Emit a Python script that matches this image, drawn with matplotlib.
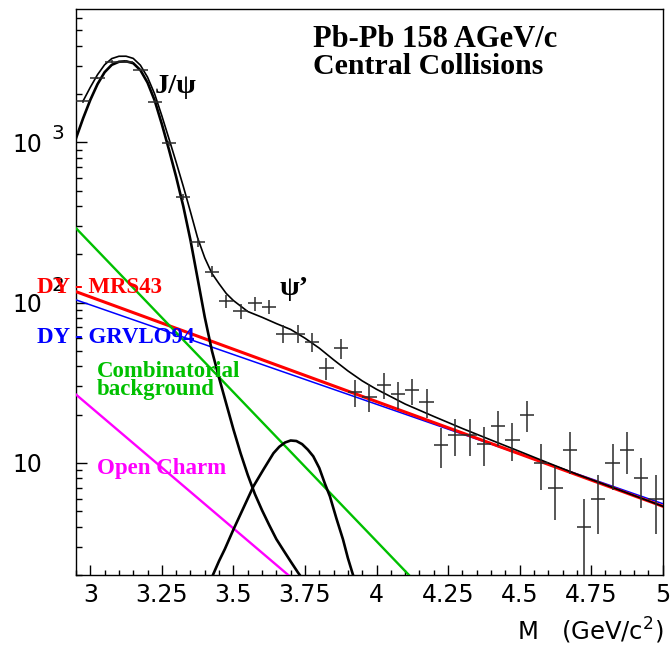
import matplotlib
matplotlib.use("Agg")
import matplotlib.pyplot as plt
import matplotlib.transforms as mtransforms
from matplotlib.ticker import MultipleLocator, LogLocator, NullFormatter, FixedLocator

# ---------------- data ----------------
mass_bins = [2.975, 3.025, 3.075, 3.125, 3.175, 3.225, 3.275, 3.325, 3.375, 3.425,
             3.475, 3.525, 3.575, 3.625, 3.675, 3.725, 3.775, 3.825, 3.875, 3.925,
             3.975, 4.025, 4.075, 4.125, 4.175, 4.225, 4.275, 4.325, 4.375, 4.425,
             4.475, 4.525, 4.575, 4.625, 4.675, 4.725, 4.775, 4.825, 4.875, 4.925, 4.975]
counts = [1800, 2520, 3180, 3180, 2820, 1790, 985, 458, 238, 156,
          102, 88, 99, 94, 64, 64, 57, 39, 52, 27.5,
          25.8, 30.7, 26.9, 28.3, 24.0, 12.9, 15.0, 15.0, 13.2, 16.9,
          14.0, 20.0, 10.0, 7.0, 12.0, 4.0, 6.0, 10.0, 12.0, 8.0, 6.0]
count_err = [42, 50, 56, 56, 53, 42, 31, 21, 15, 12.5,
             10, 9.4, 10, 9.7, 8, 8, 7.5, 6.2, 7.2, 5.2,
             5.1, 5.5, 5.2, 5.3, 4.9, 3.6, 3.9, 3.9, 3.6, 4.1,
             3.7, 4.5, 3.2, 2.6, 3.5, 2.0, 2.4, 3.2, 3.5, 2.8, 2.4]
bin_half_width = 0.025

fit_x = [2.975, 3.0, 3.025, 3.05, 3.075, 3.1, 3.125, 3.15, 3.175, 3.2, 3.225, 3.25,
         3.275, 3.3, 3.325, 3.35, 3.375, 3.4, 3.425, 3.45, 3.475, 3.5, 3.55, 3.6,
         3.65, 3.7, 3.75, 3.8, 3.85, 3.9, 3.95, 4.0, 4.1, 4.2, 4.3, 4.4, 4.5, 4.6,
         4.7, 4.8, 4.9, 5.0]
fit_y = [1812, 2203, 2637, 3044, 3326, 3439, 3441, 3335, 3025, 2546, 1997, 1461,
         1050, 750, 530, 368, 253, 190, 152, 131, 114, 103, 88, 81,
         74, 68, 60, 52, 44, 37.5, 32.5, 28.8, 23.3, 19.5, 16.4, 13.9, 11.8, 10.0,
         8.5, 7.3, 6.26, 5.37]

jpsi_x = [2.95, 2.975, 3.0, 3.025, 3.05, 3.075, 3.1, 3.125, 3.15, 3.175, 3.2, 3.225,
          3.25, 3.275, 3.3, 3.325, 3.35, 3.375, 3.4, 3.425, 3.45, 3.475, 3.5, 3.525,
          3.55, 3.575, 3.6, 3.625, 3.65, 3.675, 3.7, 3.725, 3.75]
jpsi_y = [1059, 1413, 1837, 2301, 2735, 3041, 3177, 3199, 3112, 2818, 2355, 1820,
          1297, 897, 608, 398, 245, 141, 81, 50, 33.9, 23.4, 16.2, 11.5,
          8.43, 6.4, 5.07, 4.1, 3.35, 2.85, 2.43, 2.08, 1.8]

psip_x = [3.42, 3.45, 3.47, 3.5, 3.535, 3.57, 3.605, 3.64, 3.66, 3.68, 3.70, 3.72,
          3.74, 3.76, 3.779, 3.80, 3.82, 3.837, 3.86, 3.883, 3.90, 3.918, 3.93]
psip_y = [1.85, 2.45, 2.9, 3.84, 5.24, 7.15, 9.1, 11.5, 12.6, 13.4, 13.8, 13.7,
          13.1, 12.1, 11.0, 9.3, 7.4, 6.2, 4.5, 3.33, 2.55, 2.0, 1.75]

dy_mrs43_x = [2.95, 5.0]
dy_mrs43_y = [117, 5.37]
dy_grv_x = [2.95, 5.0]
dy_grv_y = [104, 5.57]
comb_x = [2.95, 4.2]
comb_y = [291, 1.38]
charm_x = [2.95, 3.75]
charm_y = [26.7, 1.63]

xticks = [3.0, 3.25, 3.5, 3.75, 4.0, 4.25, 4.5, 4.75, 5.0]
xticklabels = ["3", "3.25", "3.5", "3.75", "4", "4.25", "4.5", "4.75", "5"]
yticks = [10, 100, 1000]
ytick_base = ["10", "10", "10"]
ytick_exp = ["", "2", "3"]

# ---------------- figure ----------------
W, H = 670, 646
fig = plt.figure(figsize=(W / 100, H / 100), dpi=100)
ax = fig.add_axes([76 / W, 1 - 575 / H, (662.7 - 76) / W, (575 - 9.3) / H])

RED, BLUE, GREEN, MAG = "#ff0000", "#0000ff", "#00c000", "#ff00ff"

ax.plot(dy_grv_x, dy_grv_y, color=BLUE, lw=1.1, zorder=3)
ax.plot(dy_mrs43_x, dy_mrs43_y, color=RED, lw=2.2, zorder=3)
ax.plot(comb_x, comb_y, color=GREEN, lw=1.7, zorder=3)
ax.plot(charm_x, charm_y, color=MAG, lw=1.7, zorder=3)
ax.plot(jpsi_x, jpsi_y, color="black", lw=1.9, zorder=4)
ax.plot(psip_x, psip_y, color="black", lw=1.9, zorder=4)
ax.plot(fit_x, fit_y, color="black", lw=1.2, zorder=5)

ax.errorbar(mass_bins, counts, yerr=count_err, xerr=bin_half_width, fmt="none",
            ecolor="#2a2a2a", elinewidth=1.1, capsize=0, zorder=6)

ax.set_yscale("log")
ax.set_xlim(2.95, 5.0)
ax.set_ylim(2.0, 6750)

sans = "DejaVu Sans"
serif = "Liberation Serif"

ax.xaxis.set_major_locator(FixedLocator(xticks))
ax.set_xticklabels(xticklabels, fontsize=17, fontfamily=sans)
ax.xaxis.set_minor_locator(MultipleLocator(0.05))
ax.yaxis.set_major_locator(FixedLocator(yticks))
ax.set_yticklabels(ytick_base, fontsize=17, fontfamily=sans)
ax.yaxis.set_minor_locator(LogLocator(base=10, subs=range(2, 10)))
ax.yaxis.set_minor_formatter(NullFormatter())
ax.tick_params(axis="x", which="major", direction="in", length=7.5, width=1.0, pad=6,
               top=False)
ax.tick_params(axis="x", which="minor", direction="in", length=3.8, width=1.0, top=False)
ax.tick_params(axis="y", which="major", direction="in", length=8, width=1.0, pad=24,
               right=False)
ax.tick_params(axis="y", which="minor", direction="in", length=4.2, width=1.0, right=False)
for s in ax.spines.values():
    s.set_linewidth(1.0)

# exponents of y tick labels
btr = mtransforms.blended_transform_factory(ax.transAxes, ax.transData)
exp_raise = {"2": 12.0, "3": 6.0}
for yv, ex in zip(yticks, ytick_exp):
    if ex:
        ax.annotate(ex, xy=(0, yv), xycoords=btr, xytext=(-13, exp_raise[ex]),
                    textcoords="offset points", ha="center", va="center",
                    fontsize=14.5, fontfamily=sans, annotation_clip=False)

plt.rcParams["mathtext.fontset"] = "dejavusans"


def ftext(px, py, s, **kw):
    fig.text(px / W, 1 - py / H, s, **kw)


# x axis label
ftext(663, 640, r"M   (GeV/c$^{2}$)", ha="right", va="baseline", fontsize=17.5,
      fontfamily=sans)

# annotations
ftext(313, 47, "Pb-Pb 158 AGeV/c", ha="left", va="baseline", fontsize=22,
      fontweight="bold", fontfamily=serif)
ftext(313, 74, "Central Collisions", ha="left", va="baseline", fontsize=21.5,
      fontweight="bold", fontfamily=serif)
ftext(155, 93, "J/ψ", ha="left", va="baseline", fontsize=20.5,
      fontweight="bold", fontfamily=serif)
ftext(280, 295, "ψ’", ha="left", va="baseline", fontsize=20.5,
      fontweight="bold", fontfamily=serif)
ftext(37, 293, "DY - MRS43", ha="left", va="baseline", fontsize=16.5,
      fontweight="bold", fontfamily=serif, color=RED)
ftext(37, 343, "DY - GRVLO94", ha="left", va="baseline", fontsize=16.5,
      fontweight="bold", fontfamily=serif, color=BLUE)
ftext(97, 377, "Combinatorial", ha="left", va="baseline", fontsize=16.5,
      fontweight="bold", fontfamily=serif, color=GREEN)
ftext(97, 395.5, "background", ha="left", va="baseline", fontsize=16.5,
      fontweight="bold", fontfamily=serif, color=GREEN)
ftext(97, 474, "Open Charm", ha="left", va="baseline", fontsize=16.5,
      fontweight="bold", fontfamily=serif, color=MAG)

fig.savefig("out.png", dpi=100)
